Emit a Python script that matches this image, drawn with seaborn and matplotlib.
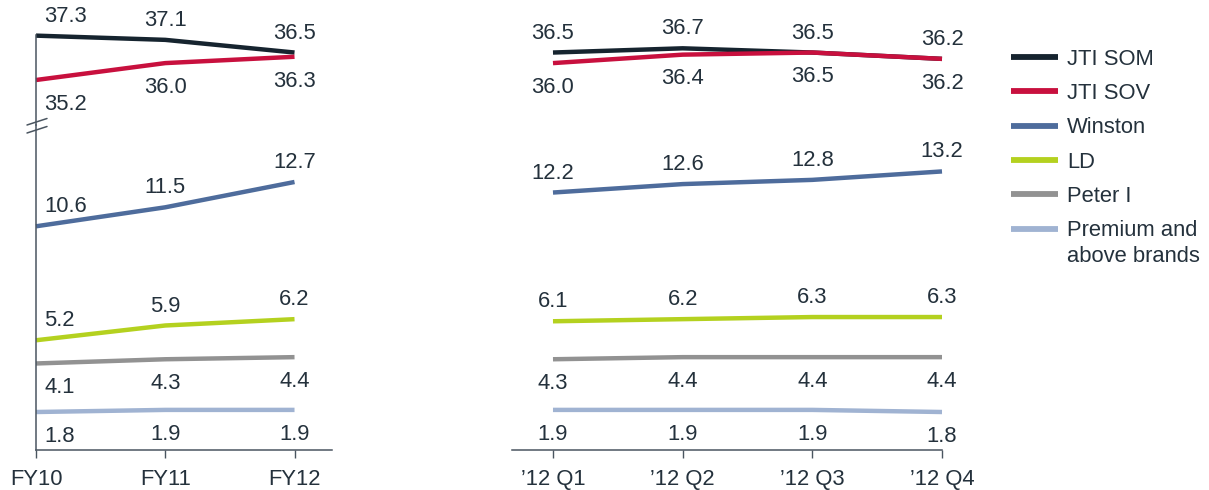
import numpy as np
import pandas as pd
import matplotlib
matplotlib.use("Agg")
import matplotlib.pyplot as plt
from matplotlib.lines import Line2D
from matplotlib.legend_handler import HandlerLine2D
import seaborn as sns

# data
series = ["JTI SOM", "JTI SOV", "Winston", "LD", "Peter I", "Premium and\nabove brands"]
colors = ["#16242f", "#c8103e", "#4e6c9c", "#b4d11f", "#929292", "#a0b3d2"]
label_side = ["above", "below", "above", "above", "below", "below"]

years = ["FY10", "FY11", "FY12"]
year_values = [
    [37.3, 37.1, 36.5],
    [35.2, 36.0, 36.3],
    [10.6, 11.5, 12.7],
    [5.2, 5.9, 6.2],
    [4.1, 4.3, 4.4],
    [1.8, 1.9, 1.9],
]

quarters = ["\u201912 Q1", "\u201912 Q2", "\u201912 Q3", "\u201912 Q4"]
quarter_values = [
    [36.5, 36.7, 36.5, 36.2],
    [36.0, 36.4, 36.5, 36.2],
    [12.2, 12.6, 12.8, 13.2],
    [6.1, 6.2, 6.3, 6.3],
    [4.3, 4.4, 4.4, 4.4],
    [1.9, 1.9, 1.9, 1.8],
]

low_lim = (0, 15.4)
high_lim = (33.07, 37.33)
split = 20

text_c = "#24313c"
axis_c = "#4a5560"

sns.set_theme(style="white")
plt.rcParams["font.family"] = ["Liberation Sans", "DejaVu Sans"]
plt.rcParams["text.color"] = text_c
fs = 15.8

fig = plt.figure(figsize=(12.09, 4.90), dpi=100)
W, H = 1209, 490


def px_axes(x0, x1, y0, y1):
    # y in pixels from the top
    return fig.add_axes([x0 / W, 1 - y1 / H, (x1 - x0) / W, (y1 - y0) / H])


left_top = px_axes(36, 332, 35, 125)
left_bot = px_axes(36, 332, 125, 450)
right_top = px_axes(512, 942, 35, 125)
right_bot = px_axes(512, 942, 125, 450)


def draw_panel(ax_top, ax_bot, periods, values, xlim, first_left):
    rows = []
    for name, vals in zip(series, values):
        for i, v in enumerate(vals):
            rows.append({"series": name, "pos": i, "value": v})
    df = pd.DataFrame(rows)
    high = [s for s, v in zip(series, values) if max(v) > split]
    pal = dict(zip(series, colors))
    for ax, sub in [(ax_top, df[df.series.isin(high)]), (ax_bot, df[~df.series.isin(high)])]:
        sns.lineplot(data=sub, x="pos", y="value", hue="series", palette=pal,
                     hue_order=[s for s in series if s in set(sub.series)],
                     linewidth=3.2, legend=False, ax=ax)
        for ln in ax.get_lines():
            ln.set_clip_on(False)
            ln.set_solid_capstyle("butt")
    for name, vals, side in zip(series, values, label_side):
        ax = ax_top if name in high else ax_bot
        for i, v in enumerate(vals):
            dy = 14 if side == "above" else -17.5
            if first_left and i == 0:
                dx, ha = 6, "left"
            else:
                dx, ha = 0, "center"
            ax.annotate(f"{v:.1f}", (i, v), xytext=(dx, dy), textcoords="offset points",
                        ha=ha, va="center", fontsize=fs, color=text_c, annotation_clip=False)
    for ax, lim in [(ax_top, high_lim), (ax_bot, low_lim)]:
        ax.set_xlim(*xlim)
        ax.set_ylim(*lim)
        ax.set_facecolor("none")
        ax.set_yticks([])
        ax.set_ylabel("")
        ax.set_xlabel("")
        for s in ax.spines.values():
            s.set_visible(False)
    ax_top.set_xticks([])
    ax_bot.set_xticks(range(len(periods)))
    ax_bot.set_xticklabels(periods, fontsize=fs, color=text_c)
    ax_bot.spines["bottom"].set_visible(True)
    ax_bot.spines["bottom"].set_color(axis_c)
    ax_bot.spines["bottom"].set_linewidth(1.1)
    ax_bot.tick_params(axis="x", bottom=True, direction="out", length=5.5, width=1,
                       color=axis_c, pad=8)
    if first_left:
        for ax in (ax_top, ax_bot):
            ax.spines["left"].set_visible(True)
            ax.spines["left"].set_color(axis_c)
            ax.spines["left"].set_linewidth(1.1)


draw_panel(left_top, left_bot, years, year_values, (0, 2.29), True)
draw_panel(right_top, right_bot, quarters, quarter_values, (-0.316, 3.0), False)

# axis break marks
for yb in (125, 133):
    fig.add_artist(Line2D([27 / W, 47 / W], [1 - yb / H, 1 - (yb - 6.5) / H],
                          color=axis_c, lw=1.1))


class FirstLineHandler(HandlerLine2D):
    # put the swatch next to the first line of a two-line label
    def create_artists(self, legend, orig_handle, xdescent, ydescent, width, height,
                       fontsize, trans):
        arts = super().create_artists(legend, orig_handle, xdescent, ydescent, width,
                                      height, fontsize, trans)
        for a in arts:
            a.set_ydata(np.asarray(a.get_ydata()) + 0.7 * fontsize)
        return arts


handles = [Line2D([], [], color=c, lw=4.2, solid_capstyle="butt") for c in colors]
leg = fig.legend(handles, series, loc="upper left", bbox_to_anchor=(1011 / W, 1 - 49 / H),
                 frameon=False, fontsize=fs, handlelength=2.15, handletextpad=0.4,
                 labelspacing=0.6, borderpad=0, borderaxespad=0, labelcolor=text_c,
                 handler_map={handles[-1]: FirstLineHandler()})
leg.get_texts()[-1].set_linespacing(1.35)

fig.savefig("out.png", dpi=100)
